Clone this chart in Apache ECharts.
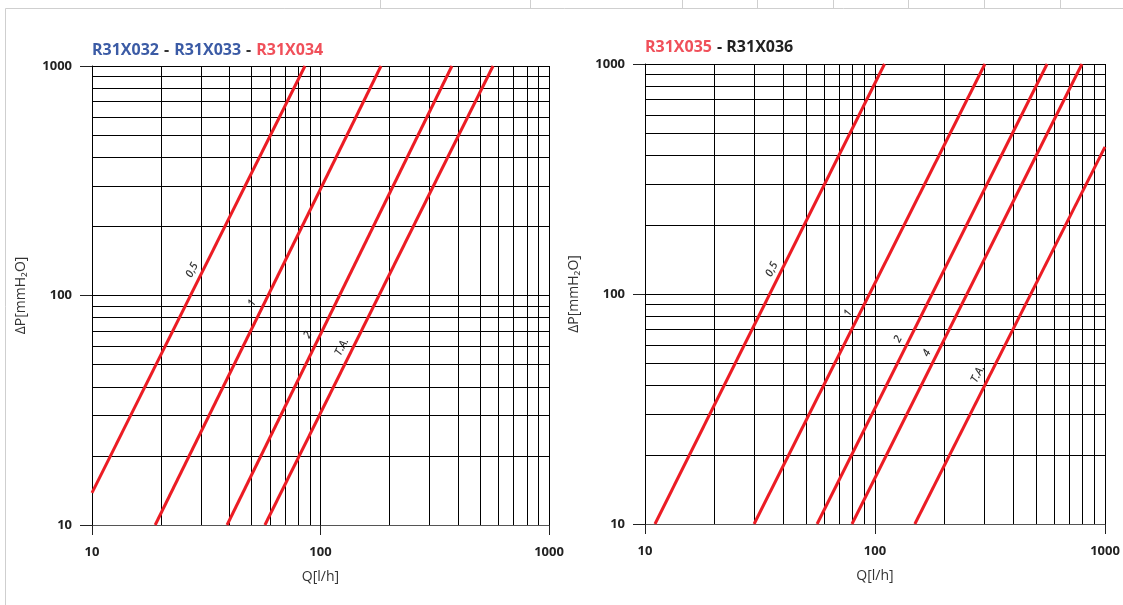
<!DOCTYPE html>
<html>
<head>
<meta charset="utf-8">
<script src="https://cdn.jsdelivr.net/npm/echarts@6/dist/echarts.min.js"></script>
<style>
html,body{margin:0;padding:0;background:#fff;}
#c{width:1123px;height:605px;}
</style>
</head>
<body>
<div id="c"></div>
<script>
// ---- data ----
const gridValues = [20,30,40,50,60,70,80,90,200,300,400,500,600,700,800,900];

// Left chart (R31X032 - R31X033 - R31X034): [Q l/h, ΔP mmH2O]
const left_05 = [[10,13.8],[85.5,1000]];
const left_1  = [[18.9,10],[184,1000]];
const left_2  = [[39,10],[376,1000]];
const left_TA = [[57.1,10],[569,1000]];
const leftLabels = [[27.4,129,'0,5'],[50.2,92.7,'1'],[88.1,67.3,'2'],[124,59.7,'T.A.']];

// Right chart (R31X035 - R31X036)
const right_05 = [[11.05,10],[110,1000]];
const right_1  = [[29.8,10],[300.6,1000]];
const right_2  = [[56,10],[560,1000]];
const right_4  = [[79.4,10],[794,1000]];
const right_TA = [[149,10],[1000,436]];
const rightLabels = [[35.6,128,'0,5'],[76.3,82.6,'1'],[126,63.7,'2'],[168,55.3,'4'],[280,44.9,'T.A.']];

const topSeparators = [380,530,682,757,833,908,984,1060];

// ---- chart ----
const RED = '#ec1c24';
const FONT = '"Open Sans", "DejaVu Sans", sans-serif';
const chart = echarts.init(document.getElementById('c'));

function xAxis(gi){
  return {
    type:'log', logBase:10, min:10, max:1000, gridIndex:gi,
    name:'Q[l/h]', nameLocation:'middle', nameGap:45,
    nameTextStyle:{fontFamily:FONT,fontSize:14,color:'#333'},
    axisLine:{show:true,onZero:false,lineStyle:{color:'#555',width:1}},
    axisTick:{show:true,inside:false,length:10,lineStyle:{color:'#222'}},
    axisLabel:{fontFamily:FONT,fontSize:13,fontWeight:'bold',color:'#222',margin:21,formatter:v=>String(Math.round(v))},
    splitLine:{show:true,lineStyle:{color:'#000',width:1}},
    minorTick:{show:false}, minorSplitLine:{show:false}
  };
}
function yAxis(gi){
  return {
    type:'log', logBase:10, min:10, max:1000, gridIndex:gi,
    name:'ΔP[mmH₂O]', nameLocation:'middle', nameGap:64, nameRotate:90,
    nameTextStyle:{fontFamily:FONT,fontSize:14,color:'#333'},
    axisLine:{show:true,onZero:false,lineStyle:{color:'#000',width:1}},
    axisTick:{show:true,inside:false,length:12,lineStyle:{color:'#222'}},
    axisLabel:{fontFamily:FONT,fontSize:13,fontWeight:'bold',color:'#222',margin:20,formatter:v=>String(Math.round(v))},
    splitLine:{show:true,lineStyle:{color:'#000',width:1}},
    minorTick:{show:false}, minorSplitLine:{show:false}
  };
}
function curve(data, gi){
  return {type:'line', xAxisIndex:gi, yAxisIndex:gi, data:data, showSymbol:false, symbol:'none',
    lineStyle:{color:RED,width:3}, z:5, silent:true, animation:false};
}
function gridSeries(gi){
  return {type:'line', xAxisIndex:gi, yAxisIndex:gi, data:[], z:1, silent:true, animation:false,
    markLine:{silent:true, symbol:['none','none'], label:{show:false}, animation:false,
      lineStyle:{color:'#000',width:1,type:'solid'}, emphasis:{disabled:true},
      data: gridValues.map(v=>({xAxis:v})).concat(gridValues.map(v=>({yAxis:v})))}};
}
function labels(data, gi){
  return {type:'scatter', xAxisIndex:gi, yAxisIndex:gi, data:data, symbolSize:0, z:6, silent:true, animation:false,
    label:{show:true, position:'inside', rotate:63, formatter:p=>p.value[2],
      fontFamily:FONT, fontSize:11, fontStyle:'italic', fontWeight:600, color:'#000'}};
}

chart.setOption({
  animation:false,
  backgroundColor:'#fff',
  title:[
    {left:92, top:41, padding:0, text:'{b|R31X032} {d|-} {b|R31X033} {d|-} {r|R31X034}',
     textStyle:{rich:{
       b:{fontFamily:FONT,fontSize:16,fontWeight:'bold',color:'#3b5ba5'},
       d:{fontFamily:FONT,fontSize:16,fontWeight:'bold',color:'#333'},
       r:{fontFamily:FONT,fontSize:16,fontWeight:'bold',color:'#f0505a'}}}},
    {left:645, top:38, padding:0, text:'{r|R31X035} {d|- R31X036}',
     textStyle:{rich:{
       d:{fontFamily:FONT,fontSize:16,fontWeight:'bold',color:'#222'},
       r:{fontFamily:FONT,fontSize:16,fontWeight:'bold',color:'#f0505a'}}}}
  ],
  grid:[
    {left:92, top:66, width:457, height:459, outerBoundsMode:'none', containLabel:false},
    {left:645, top:64, width:460, height:460, outerBoundsMode:'none', containLabel:false}
  ],
  xAxis:[xAxis(0), xAxis(1)],
  yAxis:[yAxis(0), yAxis(1)],
  series:[
    gridSeries(0), gridSeries(1),
    curve(left_05,0), curve(left_1,0), curve(left_2,0), curve(left_TA,0),
    curve(right_05,1), curve(right_1,1), curve(right_2,1), curve(right_4,1), curve(right_TA,1),
    labels(leftLabels,0), labels(rightLabels,1)
  ],
  graphic:[
    {type:'line', shape:{x1:5.5,y1:8.5,x2:1123,y2:8.5}, style:{stroke:'#cfcfcf',lineWidth:1}, silent:true},
    {type:'line', shape:{x1:5.5,y1:8.5,x2:5.5,y2:605}, style:{stroke:'#cfcfcf',lineWidth:1}, silent:true}
  ].concat(topSeparators.map(x=>({type:'line', shape:{x1:x+0.5,y1:0,x2:x+0.5,y2:8}, style:{stroke:'#cfcfcf',lineWidth:1}, silent:true})))
});
</script>
</body>
</html>
